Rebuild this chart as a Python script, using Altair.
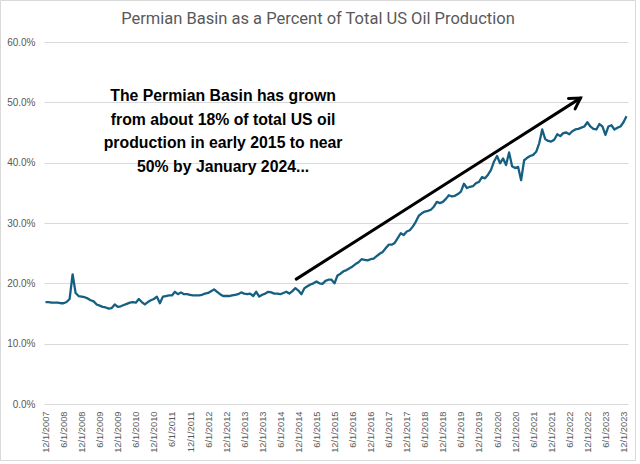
import altair as alt
import pandas as pd

# ---------------- data ----------------
title_text = "Permian Basin as a Percent of Total US Oil Production"

# Monthly Permian share of US oil production (%), Dec 2007 .. Jan 2024
permian_pct = [
    16.9, 16.9, 16.8, 16.8, 16.8, 16.7, 16.7, 16.9, 17.4, 21.5,   # 0-9
    18.4, 17.9, 17.8, 17.7, 17.5, 17.2, 17.0, 16.5, 16.3, 16.1,   # 10-19
    16.0, 15.8, 15.9, 16.5, 16.1, 16.2, 16.4, 16.6, 16.8, 16.9,   # 20-29
    16.8, 17.4, 16.9, 16.5, 16.9, 17.2, 17.4, 17.8, 16.7, 17.8,   # 30-39
    17.9, 18.0, 18.0, 18.6, 18.2, 18.5, 18.2, 18.2, 18.1, 18.0,   # 40-49
    18.0, 18.0, 18.1, 18.3, 18.4, 18.7, 19.0, 18.6, 18.2, 17.9,   # 50-59
    17.9, 17.9, 18.0, 18.1, 18.2, 18.5, 18.3, 18.2, 18.3, 17.9,   # 60-69
    18.6, 17.8, 18.1, 18.3, 18.6, 18.5, 18.3, 18.3, 18.2, 18.4,   # 70-79
    18.6, 18.3, 18.7, 19.2, 18.8, 18.2, 19.2, 19.5, 19.8, 20.0,   # 80-89
    20.3, 20.0, 19.9, 20.4, 20.6, 20.6, 20.0, 21.3, 21.6, 22.0,   # 90-99
    22.2, 22.5, 22.8, 23.2, 23.5, 24.0, 23.9, 23.8, 24.0, 24.1,   # 100-109
    24.5, 24.9, 25.2, 25.8, 26.4, 26.4, 26.7, 27.5, 28.3, 28.0,   # 110-119
    28.6, 28.8, 29.4, 30.2, 31.2, 31.6, 31.9, 32.0, 32.2, 32.7,   # 120-129
    33.5, 33.3, 33.5, 34.0, 34.6, 34.4, 34.5, 34.8, 35.2, 36.5,   # 130-139
    35.8, 36.0, 36.1, 36.6, 36.8, 37.6, 37.4, 38.0, 38.8, 40.2,   # 140-149
    41.1, 39.9, 40.7, 39.6, 41.7, 39.4, 39.1, 39.3, 37.1, 40.4,   # 150-159
    40.8, 41.1, 41.3, 41.8, 43.2, 45.5, 43.9, 43.6, 43.5, 43.8,   # 160-169
    44.7, 44.4, 44.9, 45.0, 44.7, 45.2, 45.5, 45.6, 45.8, 46.0,   # 170-179
    46.7, 46.0, 45.6, 45.5, 46.4, 46.0, 44.6, 46.0, 46.2, 45.5,   # 180-189
    45.8, 46.0, 46.7, 47.7,                                       # 190-193
]
# month categories: 12/1/2007 ... 1/1/2024
months = pd.date_range("2007-12-01", periods=len(permian_pct), freq="MS")
month_labels = [f"{d.month}/1/{d.year}" for d in months]

# every sixth category is labelled on the axis
tick_labels = [
    "12/1/2007", "6/1/2008", "12/1/2008", "6/1/2009", "12/1/2009", "6/1/2010",
    "12/1/2010", "6/1/2011", "12/1/2011", "6/1/2012", "12/1/2012", "6/1/2013",
    "12/1/2013", "6/1/2014", "12/1/2014", "6/1/2015", "12/1/2015", "6/1/2016",
    "12/1/2016", "6/1/2017", "12/1/2017", "6/1/2018", "12/1/2018", "6/1/2019",
    "12/1/2019", "6/1/2020", "12/1/2020", "6/1/2021", "12/1/2021", "6/1/2022",
    "12/1/2022", "6/1/2023", "12/1/2023",
]
y_ticks = [0.0, 0.1, 0.2, 0.3, 0.4, 0.5, 0.6]

# annotation arrow (month position, percent) and note
arrow_pos = [83.3, 177.7]
arrow_pcts = [20.7, 50.7]
note_text = ("The Permian Basin has grown\nfrom about 18% of total US oil\n"
             "production in early 2015 to near\n50% by January 2024...")
note_pos = [59.0]
note_pct = [50.2]

# ---------------- chart ----------------
line_color = "#156082"
grey = "#595959"

df = pd.DataFrame({"i": list(range(len(permian_pct))), "month": month_labels, "pct": permian_pct})
x_scale = alt.Scale(domain=[-0.5, len(permian_pct) - 0.5], nice=False, zero=False)
y_scale = alt.Scale(domain=[0, 0.6], nice=False)

label_array = "[" + ",".join(f"'{t}'" for t in tick_labels) + "]"
x_axis = alt.Axis(
    values=[6 * k for k in range(len(tick_labels))],
    labelExpr=f"{label_array}[round(datum.value / 6)]",
    labelAngle=270, labelAlign="right", labelBaseline="middle",
    labelFont="Liberation Sans", labelFontSize=9.3, labelColor=grey,
    labelPadding=7, labelOverlap=False, labelFlush=False, labelBound=False,
    ticks=False, domain=False, grid=False, title=None,
)
y_axis = alt.Axis(
    values=y_ticks, format=".1%",
    labelFont="Liberation Sans", labelFontSize=10, labelColor=grey,
    labelPadding=9, ticks=False, domain=False, labelOverlap=False,
    grid=True, gridColor="#d9d9d9", gridWidth=1, title=None,
)

base = alt.Chart(df).transform_calculate(frac="datum.pct / 100")

line = base.mark_line(color=line_color, strokeWidth=2.3, strokeJoin="round").encode(
    x=alt.X("i:Q", scale=x_scale, axis=x_axis),
    y=alt.Y("frac:Q", scale=y_scale, axis=y_axis),
    tooltip=["month:N", "pct:Q"],
)

arrow_df = pd.DataFrame({
    "x1": [arrow_pos[0]], "p1": [arrow_pcts[0] / 100],
    "x2": [arrow_pos[1]], "p2": [arrow_pcts[1] / 100],
})
arrow_line = alt.Chart(arrow_df).mark_rule(color="black", strokeWidth=3, strokeCap="round").encode(
    x=alt.X("x1:Q", scale=x_scale, axis=x_axis), y=alt.Y("p1:Q", scale=y_scale, axis=y_axis),
    x2="x2:Q", y2="p2:Q",
)
head_df = pd.DataFrame({"x": [arrow_pos[1]], "p": [arrow_pcts[1] / 100]})
arrow_head = alt.Chart(head_df).mark_point(
    shape="M -1 -0.6 L 0 0 L -1 0.6", filled=False, stroke="black",
    strokeWidth=3, size=420, angle=327.4, strokeCap="round", strokeJoin="miter", opacity=1,
).encode(x=alt.X("x:Q", scale=x_scale, axis=x_axis), y=alt.Y("p:Q", scale=y_scale, axis=y_axis))

note_df = pd.DataFrame({"x": note_pos, "p": [v / 100 for v in note_pct], "t": [note_text]})
note = alt.Chart(note_df).mark_text(
    font="Liberation Sans", fontWeight="bold", fontSize=15.8, color="black",
    align="center", baseline="alphabetic", lineBreak="\n", lineHeight=23.5,
).encode(x=alt.X("x:Q", scale=x_scale, axis=x_axis), y=alt.Y("p:Q", scale=y_scale, axis=y_axis),
         text="t:N")

deco = pd.DataFrame({"t": [title_text]})
title = alt.Chart(deco).mark_text(
    font="Roboto", fontSize=16.5, fontWeight="normal", color=grey,
    align="center", baseline="alphabetic",
).encode(x=alt.value(274), y=alt.value(-18), text="t:N")

border = alt.Chart(deco).mark_rect(
    fill="transparent", stroke="#d9d9d9", strokeWidth=1,
).encode(x=alt.value(-43.5), x2=alt.value(591.5), y=alt.value(-41.5), y2=alt.value(418.5))

chart = alt.layer(line, arrow_line, arrow_head, note, title, border).properties(
    width=584, height=362,
    autosize=alt.AutoSizeParams(type="none"),
    padding={"left": 44, "top": 42, "right": 12, "bottom": 60},
).configure(
    background="white",
    view=alt.ViewConfig(stroke=None),
    axis=alt.AxisConfig(labelOverlap=False),
)

chart.save("out.html", embed_options={"renderer": "svg", "actions": False})
